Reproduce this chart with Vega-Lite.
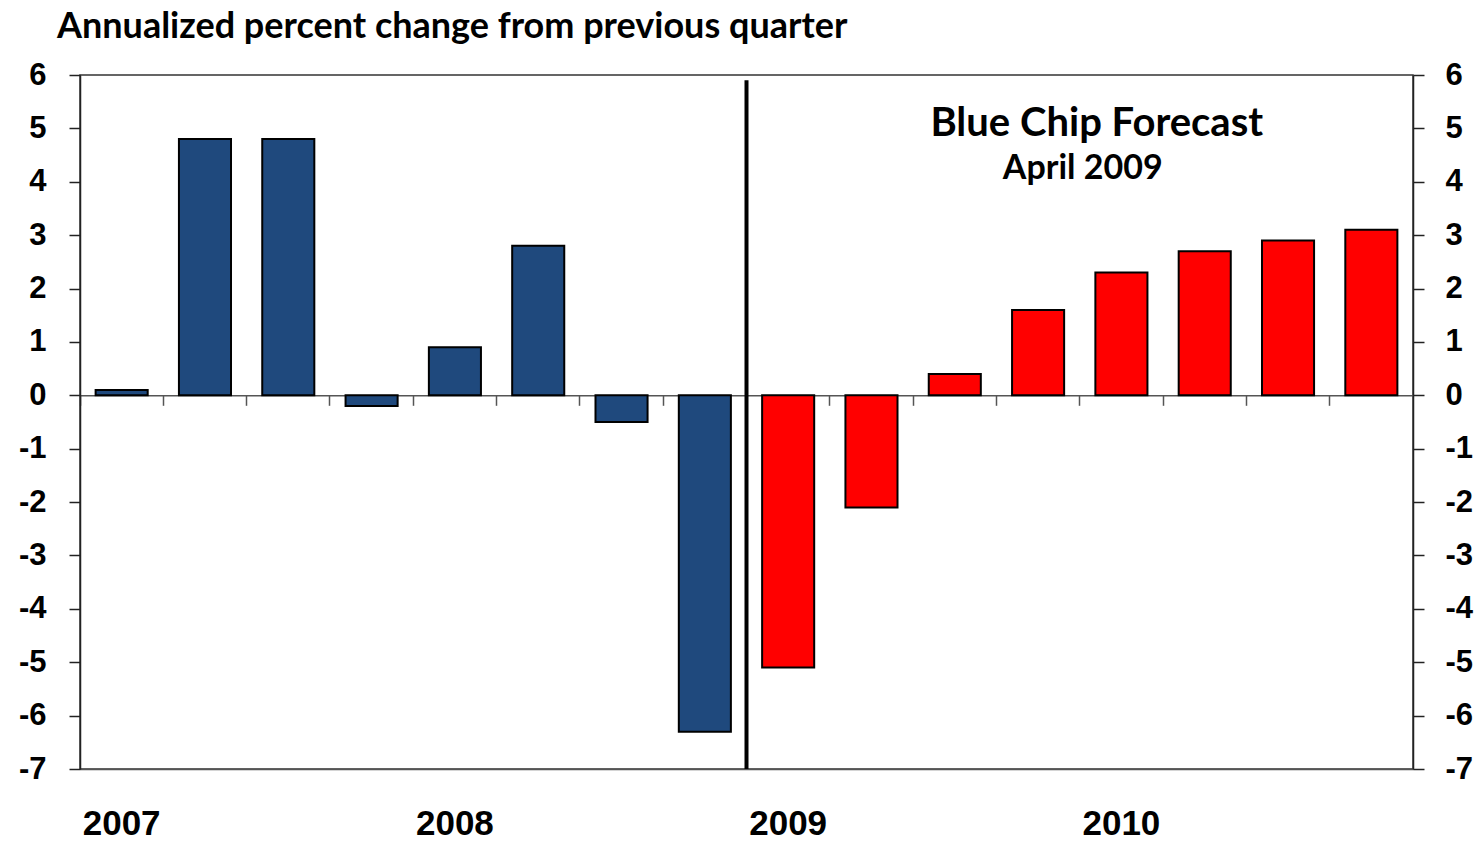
{
  "$schema": "https://vega.github.io/schema/vega-lite/v6.json",
  "width": 1333,
  "height": 694,
  "autosize": "none",
  "padding": {"left": 80, "top": 75, "right": 69, "bottom": 72},
  "background": "white",
  "config": {
    "view": {"stroke": "#333333", "strokeWidth": 1.5}
  },
  "title": {
    "text": "Annualized percent change from previous quarter",
    "anchor": "start",
    "frame": "group",
    "dx": -23,
    "offset": -15,
    "baseline": "alphabetic",
    "font": "Lato",
    "fontSize": 36,
    "fontWeight": "bold",
    "color": "black"
  },
  "data": {
    "values": [
      {"q": "2007 Q1", "value": 0.1, "type": "actual"},
      {"q": "2007 Q2", "value": 4.8, "type": "actual"},
      {"q": "2007 Q3", "value": 4.8, "type": "actual"},
      {"q": "2007 Q4", "value": -0.2, "type": "actual"},
      {"q": "2008 Q1", "value": 0.9, "type": "actual"},
      {"q": "2008 Q2", "value": 2.8, "type": "actual"},
      {"q": "2008 Q3", "value": -0.5, "type": "actual"},
      {"q": "2008 Q4", "value": -6.3, "type": "actual"},
      {"q": "2009 Q1", "value": -5.1, "type": "forecast"},
      {"q": "2009 Q2", "value": -2.1, "type": "forecast"},
      {"q": "2009 Q3", "value": 0.4, "type": "forecast"},
      {"q": "2009 Q4", "value": 1.6, "type": "forecast"},
      {"q": "2010 Q1", "value": 2.3, "type": "forecast"},
      {"q": "2010 Q2", "value": 2.7, "type": "forecast"},
      {"q": "2010 Q3", "value": 2.9, "type": "forecast"},
      {"q": "2010 Q4", "value": 3.1, "type": "forecast"}
    ]
  },
  "layer": [
    {
      "mark": {"type": "bar", "width": {"band": 0.625}, "stroke": "black", "strokeWidth": 2},
      "encoding": {
        "x": {
          "field": "q", "type": "nominal",
          "scale": {"paddingInner": 0, "paddingOuter": 0},
          "axis": {
            "orient": "bottom", "title": null,
            "labelExpr": "indexof(datum.value, 'Q1') >= 0 ? slice(datum.value, 0, 4) : ''",
            "labelAngle": 0, "ticks": false, "tickSize": 0, "labelPadding": 37,
            "labelFont": "Liberation Sans", "labelFontWeight": "bold", "labelFontSize": 35,
            "labelColor": "black", "domainColor": "#555555", "domainWidth": 1.5, "grid": false
          }
        },
        "y": {
          "field": "value", "type": "quantitative",
          "scale": {"domain": [-7, 6], "nice": false, "zero": false},
          "axis": {
            "orient": "left", "title": null,
            "values": [-7, -6, -5, -4, -3, -2, -1, 0, 1, 2, 3, 4, 5, 6],
            "labelExpr": "'' + datum.value",
            "tickSize": 11, "tickColor": "#222222", "tickWidth": 1.5,
            "domainColor": "#222222", "domainWidth": 1.5,
            "labelPadding": 23, "labelFont": "Liberation Sans", "labelFontWeight": "bold",
            "labelFontSize": 31, "labelColor": "black", "grid": false
          }
        },
        "fill": {
          "field": "type", "type": "nominal",
          "scale": {"domain": ["actual", "forecast"], "range": ["#1F497D", "#FF0000"]},
          "legend": null
        }
      }
    },
    {
      "mark": {"type": "point", "opacity": 0},
      "encoding": {
        "x": {
          "field": "q", "type": "nominal",
          "axis": {
            "orient": "bottom", "title": null, "labels": false,
            "offset": -373.7, "bandPosition": 0,
            "tickSize": 10, "tickColor": "#555555", "tickWidth": 1.5,
            "domainColor": "#555555", "domainWidth": 1.5, "grid": false
          }
        },
        "y": {
          "field": "value", "type": "quantitative",
          "axis": {
            "orient": "right", "title": null,
            "values": [-7, -6, -5, -4, -3, -2, -1, 0, 1, 2, 3, 4, 5, 6],
            "labelExpr": "'' + datum.value",
            "tickSize": 11, "tickColor": "#222222", "tickWidth": 1.5,
            "domainColor": "#222222", "domainWidth": 1.5,
            "labelPadding": 21, "labelFont": "Liberation Sans", "labelFontWeight": "bold",
            "labelFontSize": 31, "labelColor": "black", "grid": false
          }
        }
      }
    },
    {
      "data": {"values": [{"q": "2009 Q1", "top": 5.9, "bottom": -7}]},
      "mark": {"type": "rule", "color": "black", "strokeWidth": 4},
      "encoding": {
        "x": {"field": "q", "type": "nominal", "bandPosition": 0, "axis": null},
        "y": {"field": "top", "type": "quantitative", "axis": null},
        "y2": {"field": "bottom"}
      }
    },
    {
      "data": {"values": [
        {"q": "2010 Q1", "v": 4.86, "label": "Blue Chip Forecast", "size": 40, "shift": 17},
        {"q": "2010 Q1", "v": 4.05, "label": "April 2009", "size": 34, "shift": 3}
      ]},
      "mark": {"type": "text", "font": "Lato", "fontWeight": "bold", "color": "black", "baseline": "alphabetic", "align": "center"},
      "encoding": {
        "x": {"field": "q", "type": "nominal", "axis": null},
        "y": {"field": "v", "type": "quantitative", "axis": null},
        "text": {"field": "label"},
        "size": {"field": "size", "type": "quantitative", "scale": null},
        "xOffset": {"field": "shift", "type": "quantitative", "scale": null}
      }
    }
  ],
  "resolve": {"axis": {"x": "independent", "y": "independent"}}
}
